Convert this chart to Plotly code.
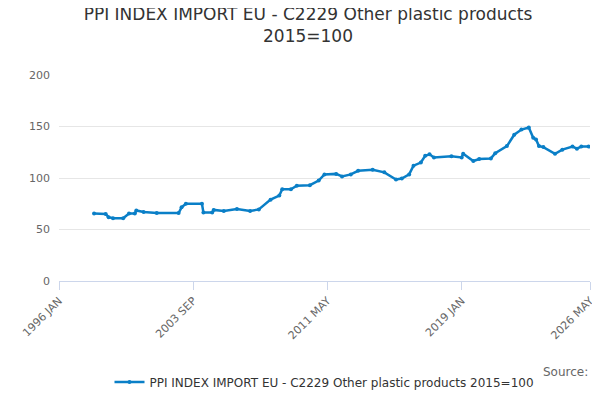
import plotly.graph_objects as go

dates = ['1998-01', '1998-09', '1998-11', '1999-02', '1999-09', '2000-01', '2000-05', '2000-06',
         '2000-11', '2001-08', '2002-11', '2003-01', '2003-04', '2004-03', '2004-04', '2004-10',
         '2004-11', '2005-06', '2006-03', '2006-12', '2007-06', '2008-02', '2008-08', '2008-10',
         '2009-04', '2009-08', '2010-05', '2010-11', '2011-03', '2011-11', '2012-03', '2012-09',
         '2013-02', '2013-12', '2014-08', '2015-04', '2015-08', '2016-01', '2016-04', '2016-09',
         '2016-12', '2017-03', '2017-06', '2018-06', '2019-01', '2019-02', '2019-09', '2020-01',
         '2020-09', '2020-12', '2021-08', '2022-01', '2022-06', '2022-11', '2023-02', '2023-04',
         '2023-06', '2023-09', '2024-05', '2024-10', '2025-05', '2025-08', '2025-11', '2026-04']
values = [65.5, 65, 62, 61, 61, 65.5, 65.5, 68.5,
          67, 66, 66, 71.5, 75, 75, 66.5, 66.5,
          69, 68, 70, 68, 69.5, 79, 83, 89,
          89, 92.5, 93, 97.5, 103.5, 104, 101.5, 103.5,
          107, 108, 105.5, 98.5, 99.5, 103.5, 112, 115,
          121.5, 123, 120, 121, 120, 123.5, 116.5, 118.5,
          119, 124, 131, 142, 147, 149, 139, 137.5,
          131, 130, 123.5, 127.5, 130.5, 128.5, 130.5, 130.5]

tick_vals = ['1996-01-01', '2003-09-01', '2011-05-01', '2019-01-01', '2026-05-01']
tick_text = ['1996 JAN', '2003 SEP', '2011 MAY', '2019 JAN', '2026 MAY']
series_name = 'PPI INDEX IMPORT EU - C2229 Other plastic products 2015=100'

fig = go.Figure()
fig.add_trace(go.Scatter(
    x=dates, y=values, name=series_name, mode='lines+markers',
    line=dict(color='#0a7fc7', width=2.5), marker=dict(size=4, color='#0a7fc7'),
))

fig.update_layout(
    width=600, height=400,
    title=dict(text='PPI INDEX IMPORT EU - C2229 Other plastic products<br>2015=100',
               x=0.5, xanchor='center', y=0.97, yanchor='top',
               font=dict(family='DejaVu Sans', size=17, color='#333333')),
    font=dict(family='DejaVu Sans', size=11, color='#666666'),
    plot_bgcolor='white', paper_bgcolor='white',
    margin=dict(l=44, r=16, t=67, b=107),
    showlegend=True,
    legend=dict(orientation='h', x=0.5, xanchor='center', y=-0.42, yanchor='top',
                font=dict(size=12, color='#333333')),
    xaxis=dict(range=['1996-01-01', '2026-05-01'], tickvals=tick_vals, ticktext=tick_text,
               tickangle=-45, showgrid=False, showline=True, linecolor='#ccd6eb',
               ticks='outside', ticklen=8, tickcolor='#ccd6eb'),
    yaxis=dict(range=[0, 200], tickvals=[0, 50, 100, 150, 200], gridcolor='#e6e6e6',
               zeroline=False, ticks='', ticklabelstandoff=8),
    annotations=[dict(text='Source:', x=1, xref='paper', xanchor='right',
                      y=0, yref='paper', yshift=-100, showarrow=False,
                      font=dict(size=12, color='#666666'))],
)

fig.write_html('out.html')
